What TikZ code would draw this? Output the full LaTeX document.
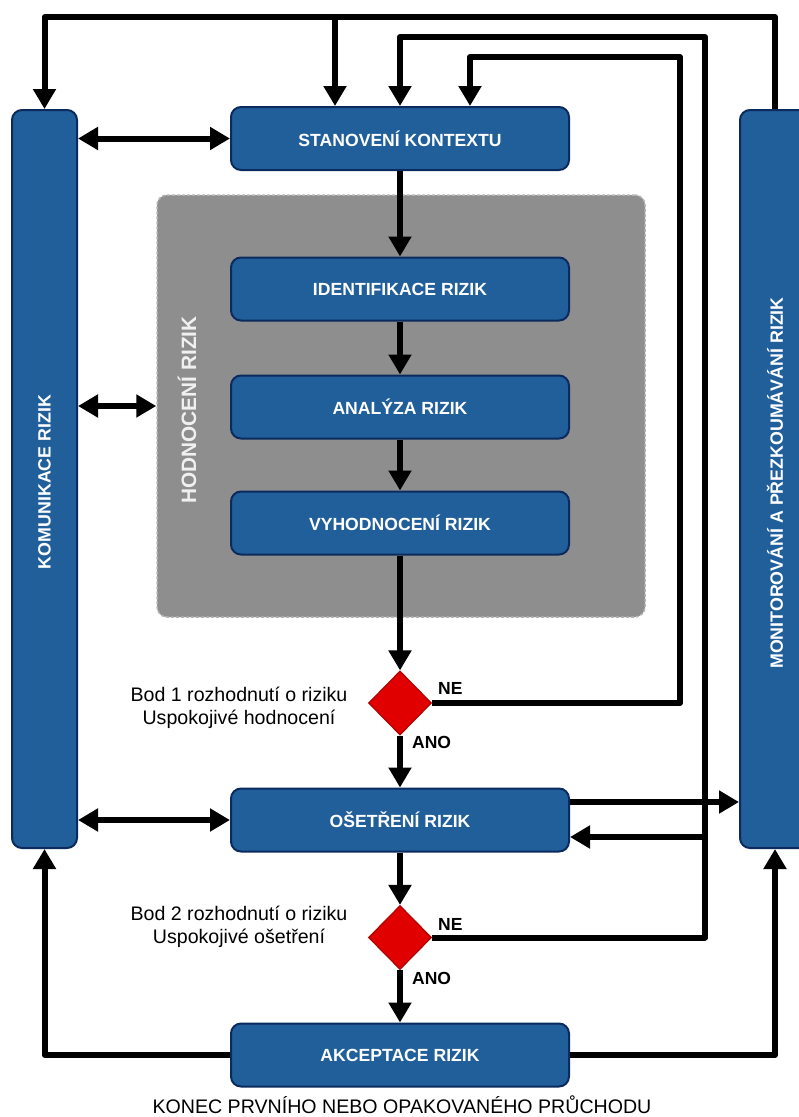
\documentclass[tikz,border=0pt]{standalone}
\usepackage{fontspec}
\setmainfont{Liberation Sans}
\usetikzlibrary{arrows.meta,shapes.geometric,calc}
\definecolor{boxblue}{HTML}{215F9B}
\definecolor{boxline}{HTML}{0B2A5E}
\definecolor{grayfill}{HTML}{8E8E8E}
\definecolor{grayline}{HTML}{B4B4B4}
\definecolor{dred}{HTML}{E00000}
\definecolor{dredline}{HTML}{B00000}
\tikzset{
  stepbox/.style={rectangle, rounded corners=10pt, fill=boxblue, draw=boxline, line width=2pt,
    minimum width=338pt, minimum height=63pt, inner sep=0pt, text=white,
    font=\bfseries\fontsize{17.6}{20}\selectfont},
  barbox/.style={rectangle, rounded corners=10pt, fill=boxblue, draw=boxline, line width=2pt,
    minimum width=65pt, minimum height=738pt, inner sep=0pt},
  bartext/.style={rotate=90, text=white, font=\bfseries\fontsize{17.8}{20}\selectfont},
  decision/.style={diamond, fill=dred, draw=dredline, line width=1.2pt, minimum width=63pt,
    minimum height=64pt, inner sep=0pt},
  conn/.style={line width=6pt, line join=round, draw=black},
  arr/.style={conn, -{Triangle[length=20pt,width=22pt]}},
  darr/.style={conn, {Triangle[length=20pt,width=22pt]}-{Triangle[length=20pt,width=22pt]}},
  lbl/.style={font=\bfseries\fontsize{17.5}{20}\selectfont, inner sep=0pt},
  note/.style={font=\fontsize{19.6}{23}\selectfont, align=center, inner sep=0pt},
}
\begin{document}
\begin{tikzpicture}[x=1pt,y=-1pt]
\path[use as bounding box] (0,0) rectangle (799,1117);
\clip (0,0) rectangle (799,1117);
\fill[white] (0,0) rectangle (799,1117);

% gray group
\node[rectangle, rounded corners=10pt, fill=grayfill, draw=grayline, dash pattern=on 3pt off 2pt, line width=1.5pt,
  minimum width=488pt, minimum height=422pt] (grp) at (401,406) {};
\node[rotate=90, text=white!88!gray, font=\bfseries\fontsize{20.8}{24}\selectfont] (grpt) at (187,410) {HODNOCENÍ RIZIK};

% side bars
\node[barbox] (kom) at (44.5,479) {};
\node[bartext] (komt) at (44.5,482) {KOMUNIKACE RIZIK};
\node[barbox, minimum width=70pt] (mon) at (775,479) {};
\node[bartext] (mont) at (775,483) {MONITOROVÁNÍ A PŘEZKOUMÁVÁNÍ RIZIK};

% main boxes
\node[stepbox] (stan) at (400,138.5) {STANOVENÍ KONTEXTU};
\node[stepbox] (ident) at (400,289) {IDENTIFIKACE RIZIK};
\node[stepbox] (anal) at (400,407) {ANALÝZA RIZIK};
\node[stepbox] (vyh) at (400,523) {VYHODNOCENÍ RIZIK};
\node[decision] (d1) at (400,703) {};
\node[stepbox] (oset) at (400,820) {OŠETŘENÍ RIZIK};
\node[decision] (d2) at (400,937.5) {};
\node[stepbox] (akc) at (400,1055) {AKCEPTACE RIZIK};

% labels
\node[lbl, anchor=south west] (ne1) at (438,695) {NE};
\node[lbl, anchor=north west] (ano1) at (412,736) {ANO};
\node[lbl, anchor=south west] (ne2) at (438,931) {NE};
\node[lbl, anchor=north west] (ano2) at (412,972) {ANO};
\node[note] (b1) at (239,708) {Bod 1 rozhodnutí o riziku\\Uspokojivé hodnocení};
\node[note] (b2) at (239,927) {Bod 2 rozhodnutí o riziku\\Uspokojivé ošetření};
\node[font=\fontsize{19.6}{22}\selectfont, inner sep=0pt] (end) at (402,1105) {KONEC PRVNÍHO NEBO OPAKOVANÉHO PRŮCHODU};

% helper coordinates
\coordinate (top) at (0,17);
\coordinate (j1) at (335,17);
\coordinate (c2) at (705,37);
\coordinate (c1) at (680,57);
\coordinate (x470) at (470,0);
\coordinate (r) at (705,837);
\coordinate (y802) at (0,802);

% top loop
\draw[arr] (mon.north) -- (mon.north |- top) -- (kom.north |- top) -- (kom.north);
\draw[arr] (j1) -- (j1 |- stan.north);
% return loops
\draw[arr] (d2.east) -| (c2) -| (stan.north);
\draw[arr] (d1.east) -| (c1) -| (x470 |- stan.north);
\draw[arr] (r) -- (r -| oset.east);
\draw[arr] (y802 -| oset.east) -- (y802 -| mon.west);

% main flow
\draw[arr] (stan) -- (ident);
\draw[arr] (ident) -- (anal);
\draw[arr] (anal) -- (vyh);
\draw[arr] (vyh) -- (d1);
\draw[arr] (d1) -- (oset);
\draw[arr] (oset) -- (d2);
\draw[arr] (d2) -- (akc);

% bottom
\draw[arr] (akc.east) -| (mon.south);
\draw[arr] (akc.west) -| (kom.south);

% communication
\draw[darr] (kom.east |- stan) -- (stan.west);
\draw[darr] (kom.east |- grp) -- (grp.west);
\draw[darr] (kom.east |- oset) -- (oset.west);
\end{tikzpicture}
\end{document}
